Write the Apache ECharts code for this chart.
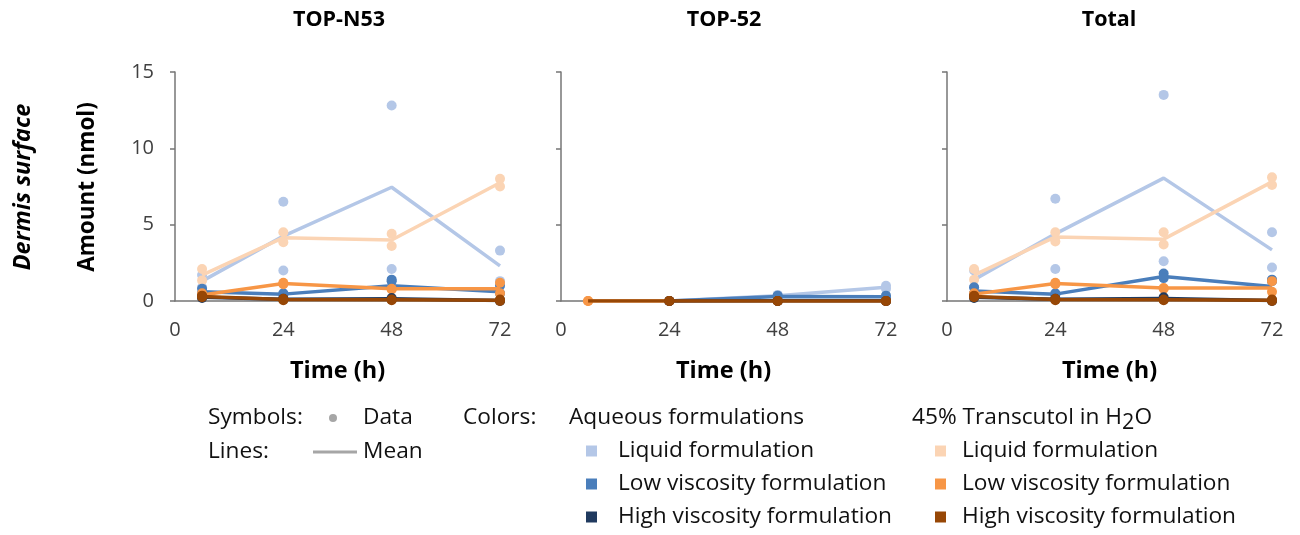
<!DOCTYPE html>
<html lang="en">
<head>
    <meta charset="UTF-8">
    <title>Dermis surface</title>
    <script src="https://cdn.jsdelivr.net/npm/echarts@6/dist/echarts.min.js"></script>
    <style>
        body { margin: 0; background: #fff; }
    </style>
</head>
<body>
<div id="main" style="width: 1300px;height:535px;"></div>
<script type="text/javascript">
    // time points (h)
    var times = [6, 24, 48, 72];
    var panelTitles = ['TOP-N53', 'TOP-52', 'Total'];
    var groupNames = ['Aqueous liquid', '45% Transcutol liquid', 'Aqueous low viscosity',
        '45% Transcutol low viscosity', 'Aqueous high viscosity', '45% Transcutol high viscosity'];
    var groupColors = ['#b4c7e7', '#fbd4b4', '#4a7ebb', '#f79646', '#203a5f', '#974706'];

    // TOP-N53 : replicate values and means, per time point
    var n53AqLiqPts = [[1.7, 0.9], [6.5, 2.0], [12.8, 2.1], [3.3, 1.3]];
    var n53AqLiqMean = [1.3, 4.25, 7.45, 2.3];
    var n53TrLiqPts = [[2.1, 1.35], [4.5, 3.85], [4.4, 3.6], [8.0, 7.5]];
    var n53TrLiqMean = [1.7, 4.15, 4.0, 7.75];
    var n53AqLowPts = [[0.8, 0.5], [0.5, 0.4], [1.4, 1.3], [1.0, 0.5]];
    var n53AqLowMean = [0.6, 0.45, 1.0, 0.6];
    var n53TrLowPts = [[0.5, 0.35], [1.2, 1.1], [0.8, 0.75], [1.2, 0.5]];
    var n53TrLowMean = [0.4, 1.15, 0.8, 0.8];
    var n53AqHighPts = [[0.3, 0.2], [0.15, 0.1], [0.2, 0.1], [0.05, 0.0]];
    var n53AqHighMean = [0.25, 0.12, 0.15, 0.03];
    var n53TrHighPts = [[0.35, 0.25], [0.15, 0.05], [0.1, 0.05], [0.1, 0.0]];
    var n53TrHighMean = [0.3, 0.1, 0.08, 0.05];

    // TOP-52
    var t52AqLiqPts = [[], [0, 0], [0.4, 0.3], [1.0, 0.8]];
    var t52AqLiqMean = [null, 0, 0.35, 0.9];
    var t52TrLiqPts = [[], [0, 0], [0, 0], [0, 0]];
    var t52TrLiqMean = [null, 0, 0, 0];
    var t52AqLowPts = [[], [0, 0], [0.35, 0.3], [0.35, 0.2]];
    var t52AqLowMean = [null, 0, 0.3, 0.28];
    var t52TrLowPts = [[0, 0], [0, 0], [0, 0], [0, 0]];
    var t52TrLowMean = [0, 0, 0, 0];
    var t52AqHighPts = [[], [0, 0], [0, 0], [0, 0]];
    var t52AqHighMean = [null, 0, 0.02, 0.02];
    var t52TrHighPts = [[], [0, 0], [0, 0], [0, 0]];
    var t52TrHighMean = [0, 0, 0, 0];

    // Total
    var totAqLiqPts = [[2.0, 0.9], [6.7, 2.1], [13.5, 2.6], [4.5, 2.2]];
    var totAqLiqMean = [1.4, 4.4, 8.05, 3.35];
    var totTrLiqPts = [[2.1, 1.4], [4.5, 3.9], [4.5, 3.7], [8.1, 7.6]];
    var totTrLiqMean = [1.7, 4.2, 4.05, 7.8];
    var totAqLowPts = [[0.9, 0.5], [0.5, 0.4], [1.8, 1.5], [1.4, 1.3]];
    var totAqLowMean = [0.65, 0.45, 1.6, 0.95];
    var totTrLowPts = [[0.5, 0.4], [1.2, 1.1], [0.85, 0.8], [1.3, 0.6]];
    var totTrLowMean = [0.45, 1.15, 0.85, 0.85];
    var totAqHighPts = [[0.3, 0.2], [0.15, 0.1], [0.25, 0.1], [0.05, 0.0]];
    var totAqHighMean = [0.25, 0.12, 0.17, 0.03];
    var totTrHighPts = [[0.35, 0.25], [0.15, 0.05], [0.1, 0.05], [0.1, 0.0]];
    var totTrHighMean = [0.3, 0.1, 0.08, 0.05];

    var xTicks = [0, 24, 48, 72];
    var yTicks = [0, 5, 10, 15];

    var panels = [
        [[n53AqLiqPts, n53AqLiqMean], [n53TrLiqPts, n53TrLiqMean], [n53AqLowPts, n53AqLowMean],
            [n53TrLowPts, n53TrLowMean], [n53AqHighPts, n53AqHighMean], [n53TrHighPts, n53TrHighMean]],
        [[t52AqLiqPts, t52AqLiqMean], [t52TrLiqPts, t52TrLiqMean], [t52AqLowPts, t52AqLowMean],
            [t52TrLowPts, t52TrLowMean], [t52AqHighPts, t52AqHighMean], [t52TrHighPts, t52TrHighMean]],
        [[totAqLiqPts, totAqLiqMean], [totTrLiqPts, totTrLiqMean], [totAqLowPts, totAqLowMean],
            [totTrLowPts, totTrLowMean], [totAqHighPts, totAqHighMean], [totTrHighPts, totTrHighMean]]
    ];

    var FONT = '"Open Sans", sans-serif';
    var axisGray = '#767676';
    var gridLeft = [175, 561, 947];

    var grids = [], xAxes = [], yAxes = [], series = [];
    for (var p = 0; p < 3; p++) {
        grids.push({left: gridLeft[p], top: 72, width: 325, height: 229});
        xAxes.push({
            type: 'value', gridIndex: p, min: xTicks[0], max: xTicks[xTicks.length - 1], interval: 24,
            name: 'Time (h)', nameLocation: 'middle', nameGap: 58,
            nameTextStyle: {fontFamily: FONT, fontWeight: 'bold', fontSize: 23.5, color: '#000'},
            axisLine: {lineStyle: {color: axisGray, width: 1.5}},
            axisTick: {show: false},
            axisLabel: {fontFamily: FONT, fontSize: 20, color: '#404040', margin: 19},
            splitLine: {show: false}
        });
        yAxes.push({
            type: 'value', gridIndex: p, min: yTicks[0], max: yTicks[yTicks.length - 1], interval: 5,
            axisLine: {show: true, lineStyle: {color: axisGray, width: 1.5}},
            axisTick: {show: true, length: 5, lineStyle: {color: axisGray, width: 1.5}},
            axisLabel: {show: p === 0, fontFamily: FONT, fontSize: 20, color: '#404040', margin: 21},
            splitLine: {show: false}
        });
        for (var g = 0; g < 6; g++) {
            var pts = panels[p][g][0], mean = panels[p][g][1];
            var scatterData = [], lineData = [];
            for (var i = 0; i < times.length; i++) {
                for (var k = 0; k < pts[i].length; k++) scatterData.push([times[i], pts[i][k]]);
                if (mean[i] !== null) lineData.push([times[i], mean[i]]);
            }
            series.push({
                name: groupNames[g] + ' mean', type: 'line', xAxisIndex: p, yAxisIndex: p,
                data: lineData, showSymbol: false, silent: true,
                lineStyle: {color: groupColors[g], width: 3.5}, z: 2 + g
            });
            series.push({
                name: groupNames[g], type: 'scatter', xAxisIndex: p, yAxisIndex: p,
                data: scatterData, symbolSize: 10,
                itemStyle: {color: groupColors[g], opacity: 1}, z: 2 + g
            });
        }
    }

    var txt = function (x, y, text, extra) {
        var style = {text: text, x: x, y: y, fill: '#111', font: '22.7px ' + FONT, verticalAlign: 'middle'};
        for (var key in extra) style[key] = extra[key];
        return {type: 'text', style: style, silent: true};
    };
    var titleCenters = [339, 724, 1109];
    var graphics = [];
    for (var t = 0; t < 3; t++) {
        graphics.push(txt(titleCenters[t], 20, panelTitles[t], {font: 'bold 21.5px ' + FONT, align: 'center', fill: '#000'}));
    }
    graphics.push({type: 'text', x: 23, y: 187, rotation: Math.PI / 2, silent: true,
        style: {text: 'Dermis surface', font: 'italic bold 23.5px ' + FONT, fill: '#000', align: 'center', verticalAlign: 'middle'}});
    graphics.push({type: 'text', x: 88, y: 187, rotation: Math.PI / 2, silent: true,
        style: {text: 'Amount (nmol)', font: 'bold 22.5px ' + FONT, fill: '#000', align: 'center', verticalAlign: 'middle'}});

    // legend block
    graphics.push(txt(208, 418, 'Symbols:'));
    graphics.push({type: 'circle', shape: {cx: 333, cy: 418, r: 4}, style: {fill: '#a6a6a6'}, silent: true});
    graphics.push(txt(363, 418, 'Data'));
    graphics.push(txt(463, 418, 'Colors:'));
    graphics.push(txt(569, 418, 'Aqueous formulations'));
    graphics.push({type: 'text', x: 912, y: 418, silent: true, style: {
        text: '{a|45% Transcutol in H}{s|2}{a|O}', verticalAlign: 'middle', fill: '#111',
        rich: {a: {fontFamily: FONT, fontSize: 22.7, fill: '#111'},
            s: {fontFamily: FONT, fontSize: 21.5, fill: '#111', padding: [9, 0, 0, 0]}}
    }});
    graphics.push(txt(208, 452, 'Lines:'));
    graphics.push({type: 'line', shape: {x1: 313, y1: 452, x2: 357, y2: 452}, style: {stroke: '#a6a6a6', lineWidth: 3}, silent: true});
    graphics.push(txt(363, 452, 'Mean'));

    var rowNames = ['Liquid formulation', 'Low viscosity formulation', 'High viscosity formulation'];
    var rowY = [451, 484, 517];
    var aqColors = [groupColors[0], groupColors[2], groupColors[4]];
    var trColors = [groupColors[1], groupColors[3], groupColors[5]];
    for (var r = 0; r < 3; r++) {
        graphics.push({type: 'rect', shape: {x: 586, y: rowY[r] - 5.5, width: 11, height: 11}, style: {fill: aqColors[r]}, silent: true});
        graphics.push(txt(618, rowY[r], rowNames[r]));
        graphics.push({type: 'rect', shape: {x: 935, y: rowY[r] - 5.5, width: 11, height: 11}, style: {fill: trColors[r]}, silent: true});
        graphics.push(txt(962, rowY[r], rowNames[r]));
    }

    var myChart = echarts.init(document.getElementById('main'));
    var option = {
        animation: false,
        backgroundColor: '#fff',
        grid: grids,
        xAxis: xAxes,
        yAxis: yAxes,
        series: series,
        graphic: graphics
    };
    myChart.setOption(option);
</script>
</body>
</html>
